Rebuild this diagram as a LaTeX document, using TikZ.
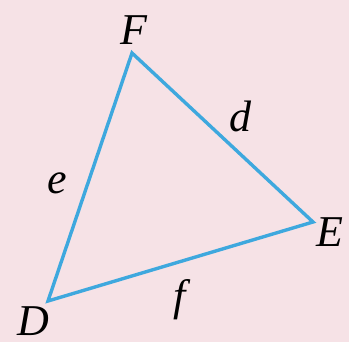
\documentclass[tikz,border=0pt]{standalone}
\usepackage{fontspec}
\setmainfont{Liberation Serif}
\definecolor{pagepink}{RGB}{246,226,230}
\definecolor{sideblue}{RGB}{62,168,222}
\usepackage{tikz}
\usetikzlibrary{positioning}
\begin{document}
\begin{tikzpicture}[
      side/.style={draw=sideblue,line width=1.7pt,line join=miter},
      vlbl/.style={font=\fontsize{22}{24}\selectfont\itshape,inner sep=0pt},
      slbl/.style={font=\fontsize{22}{24}\selectfont\itshape,inner sep=0pt},
      x=0.5pt,y=-0.5pt]
    \fill[pagepink] (0,0) rectangle (349,342);
    \useasboundingbox (0,0) rectangle (349,342);
    \coordinate (F) at (132,53);
    \coordinate (E) at (313,222);
    \coordinate (D) at (48,301);
    \draw[side] (F) -- (E) -- (D) -- cycle;
    \node[vlbl] (lF) at (134,30) {F};
    \node[vlbl] (lE) at (330,232) {E};
    \node[vlbl] (lD) at (33,321) {D};
    \node[slbl] (ld) at (240,116) {d};
    \node[slbl] (le) at (57,183) {e};
    \node[slbl] (lf) at (180,300) {f};
  \end{tikzpicture}
\end{document}
